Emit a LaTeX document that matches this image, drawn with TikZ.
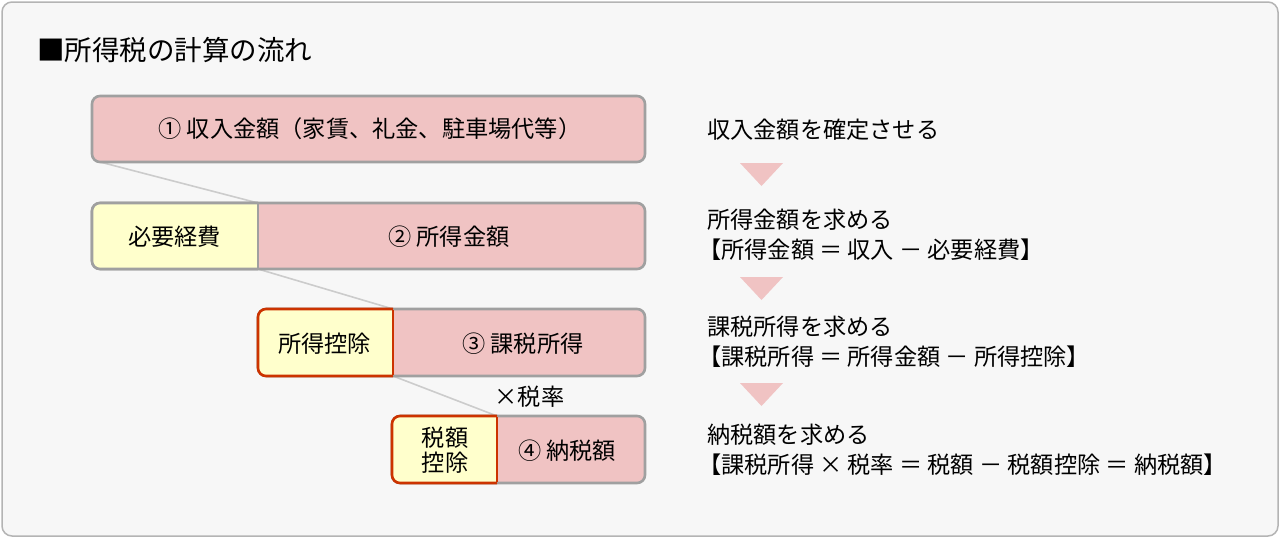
\documentclass[tikz,border=0pt]{standalone}
\usepackage{fontspec}
\setmainfont{Noto Sans CJK JP}
\definecolor{bgc}{HTML}{F7F7F7}
\definecolor{bgborder}{HTML}{B4B4B4}
\definecolor{pinkc}{HTML}{F0C3C3}
\definecolor{yellowc}{HTML}{FFFFCC}
\definecolor{boxgray}{HTML}{A0A0A0}
\definecolor{redc}{HTML}{CC3300}
\definecolor{linkgray}{HTML}{CCCCCC}
\tikzset{
  pinkbox/.style={draw=boxgray, line width=2.6pt, fill=pinkc, rounded corners=8pt},
  redline/.style={draw=redc, line width=2.6pt, rounded corners=8pt},
  txt/.style={font=\fontsize{23.2}{25}\selectfont, inner sep=0pt},
  rtxt/.style={font=\fontsize{23.2}{25}\selectfont, inner sep=0pt, anchor=west},
  tri/.style={fill=pinkc, draw=none},
  link/.style={draw=linkgray, line width=1.6pt}
}
\begin{document}
\begin{tikzpicture}[x=1pt,y=-1pt]
\useasboundingbox (0,0) rectangle (1280,538);
\draw[fill=bgc, draw=bgborder, line width=1.5pt, rounded corners=10pt] (2,2) rectangle (1278,536);
\node[anchor=west, inner sep=0pt, font=\fontsize{27.5}{32}\selectfont] (title) at (37,50) {■所得税の計算の流れ};

% coordinates
\coordinate (c1) at (100,162);
\coordinate (d2t) at (258,203);
\coordinate (d2b) at (258,269);
\coordinate (d3t) at (393,309);
\coordinate (d3b) at (393,376);
\coordinate (d4t) at (497,416);
\coordinate (d4b) at (497,483);

% connectors (behind boxes)
\draw[link] (c1) -- (d2t);
\draw[link] (d2b) -- (d3t);
\draw[link] (d3b) -- (d4t);

% box 1
\draw[pinkbox] (92,96) rectangle (645,162);
\node[txt] (t1) at (370,129) {① 収入金額（家賃、礼金、駐車場代等）};

% box 2
\draw[pinkbox] (92,203) rectangle (645,269);
\begin{scope}
  \clip (80,190) rectangle (258,280);
  \draw[pinkbox, fill=yellowc] (92,203) rectangle (645,269);
\end{scope}
\draw[draw=boxgray, line width=2.6pt] (d2t) -- (d2b);
\node[txt] (e2) at (174.5,237) {必要経費};
\node[txt] (t2) at (449,237) {② 所得金額};

% box 3
\draw[pinkbox] (258,309) rectangle (645,376);
\begin{scope}
  \clip (240,295) rectangle (393,390);
  \draw[redline, fill=yellowc] (258,309) rectangle (645,376);
\end{scope}
\draw[draw=redc, line width=2.6pt] ([yshift=-1.3pt]d3t) -- ([yshift=1.3pt]d3b);
\node[txt] (e3) at (324.5,344) {所得控除};
\node[txt] (t3) at (523,344) {③ 課税所得};

\node[txt] (rate) at (529.5,397) {×税率};

% box 4
\draw[pinkbox] (392,416) rectangle (645,483);
\begin{scope}
  \clip (380,400) rectangle (497,495);
  \draw[redline, fill=yellowc] (392,416) rectangle (645,483);
\end{scope}
\draw[draw=redc, line width=2.6pt] ([yshift=-1.3pt]d4t) -- ([yshift=1.3pt]d4b);
\node[txt, align=center, font=\fontsize{23.2}{25}\selectfont] (e4) at (445,450) {税額\\控除};
\node[txt] (t4) at (567,451) {④ 納税額};

% right column
\node[rtxt] (r1) at (707,130) {収入金額を確定させる};
\fill[tri] (740,163) -- (783,163) -- (761.5,186) -- cycle;
\node[rtxt] (r2a) at (707,220) {所得金額を求める};
\node[rtxt] (r2b) at (698,250) {【所得金額 ＝ 収入 － 必要経費】};
\fill[tri] (740,277) -- (783,277) -- (761.5,300) -- cycle;
\node[rtxt] (r3a) at (707,327) {課税所得を求める};
\node[rtxt] (r3b) at (698,357) {【課税所得 ＝ 所得金額 － 所得控除】};
\fill[tri] (740,383) -- (783,383) -- (761.5,406) -- cycle;
\node[rtxt] (r4a) at (707,435) {納税額を求める};
\node[rtxt] (r4b) at (698,465) {【課税所得 × 税率 ＝ 税額 － 税額控除 ＝ 納税額】};
\end{tikzpicture}
\end{document}
